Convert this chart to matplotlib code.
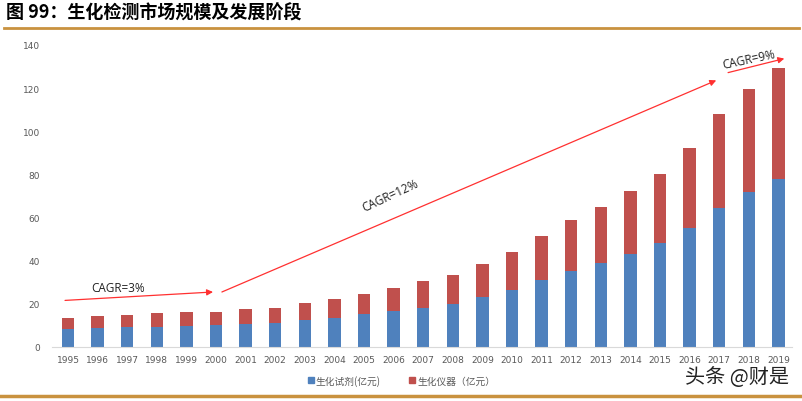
import matplotlib
matplotlib.use("Agg")
import matplotlib.pyplot as plt
from matplotlib.lines import Line2D
import numpy as np

plt.rcParams['font.family'] = ['Noto Sans CJK SC', 'DejaVu Sans']

years = [str(y) for y in range(1995, 2020)]
reagent = [8.5, 8.8, 9.1, 9.4, 9.7, 10.0, 10.5, 11.1, 12.5, 13.4, 15.1, 16.5,
           18.1, 19.9, 23.0, 26.4, 30.9, 35.1, 38.8, 43.1, 48.2, 55.3, 64.6, 71.9, 77.7]
total = [13.6, 14.4, 15.0, 15.6, 16.0, 16.4, 17.4, 18.1, 20.4, 22.4, 24.7, 27.4,
         30.4, 33.4, 38.5, 44.2, 51.5, 58.9, 64.9, 72.3, 80.0, 92.3, 107.8, 119.6, 129.3]
instrument = [t - r for t, r in zip(total, reagent)]

series_names = ["生化试剂(亿元)", "生化仪器（亿元）"]
cagr_labels = ["CAGR=3%", "CAGR=12%", "CAGR=9%"]

BLUE = "#4f81bd"
RED = "#c0504d"
GOLD = "#c9923f"
GREY = "#595959"

fig = plt.figure(figsize=(8.03, 4.02), dpi=100)
ax = fig.add_axes([52 / 803, 1 - 348 / 402, 740 / 803, 302 / 402])

x = np.arange(len(years))
ax.bar(x, reagent, width=0.42, color=BLUE, label=series_names[0])
ax.bar(x, instrument, width=0.42, bottom=reagent, color=RED, label=series_names[1])

ax.set_xlim(-0.54, 24.46)
ax.set_ylim(0, 140)
ax.set_yticks(range(0, 141, 20))
ax.set_xticks(x)
ax.set_xticklabels(years)
ax.tick_params(axis='both', length=0, labelsize=6.5, colors=GREY, pad=6)
for lab in ax.get_xticklabels() + ax.get_yticklabels():
    lab.set_family(['DejaVu Sans'])
ax.tick_params(axis='y', pad=8.5)
for side in ["top", "right", "left"]:
    ax.spines[side].set_visible(False)
ax.spines["bottom"].set_color("#d9d9d9")

# growth arrows
arrows = [((-0.1, 21.6), (4.9, 25.5)),
          ((5.2, 25.5), (21.9, 123.6)),
          ((22.3, 127.2), (24.2, 133.7))]
for (x0, y0), (x1, y1) in arrows:
    ax.annotate("", xy=(x1, y1), xytext=(x0, y0),
                arrowprops=dict(arrowstyle="-|>", color="#ff3030", lw=0.9,
                                mutation_scale=9, shrinkA=0, shrinkB=0))
ax.text(1.7, 27.6, cagr_labels[0], fontsize=8.5, color="#222222", ha="center", va="center",
        family=['Open Sans'])
ax.text(10.9, 70.5, cagr_labels[1], fontsize=8.5, color="#222222", ha="center", va="center",
        rotation=25, family=['Open Sans'])
ax.text(23.0, 133.5, cagr_labels[2], fontsize=8.5, color="#222222", ha="center", va="center",
        rotation=12, family=['Open Sans'])

# legend
handles = [Line2D([], [], marker='s', color='none', markerfacecolor=BLUE, markeredgecolor=BLUE, markersize=5),
           Line2D([], [], marker='s', color='none', markerfacecolor=RED, markeredgecolor=RED, markersize=5)]
fig.legend(handles, series_names, loc='center', bbox_to_anchor=(0.5, 0.052), ncol=2,
           frameon=False, fontsize=7, handlelength=0.6, handletextpad=0.2, columnspacing=3,
           labelcolor=GREY)

# title and frame lines
fig.text(0.008, 0.967, "图 99：生化检测市场规模及发展阶段", fontsize=13, fontweight='bold',
         ha='left', va='center', color="#000000")
fig.add_artist(Line2D([0.005, 0.995], [1 - 29 / 402, 1 - 29 / 402], color=GOLD, lw=2))
fig.add_artist(Line2D([0.0, 1.0], [1 - 397 / 402, 1 - 397 / 402], color=GOLD, lw=2.5))

fig.text(0.982, 0.06, "头条 @财是", fontsize=14.5, ha='right', va='center', color="#222222")

fig.savefig("out.png", dpi=100)
